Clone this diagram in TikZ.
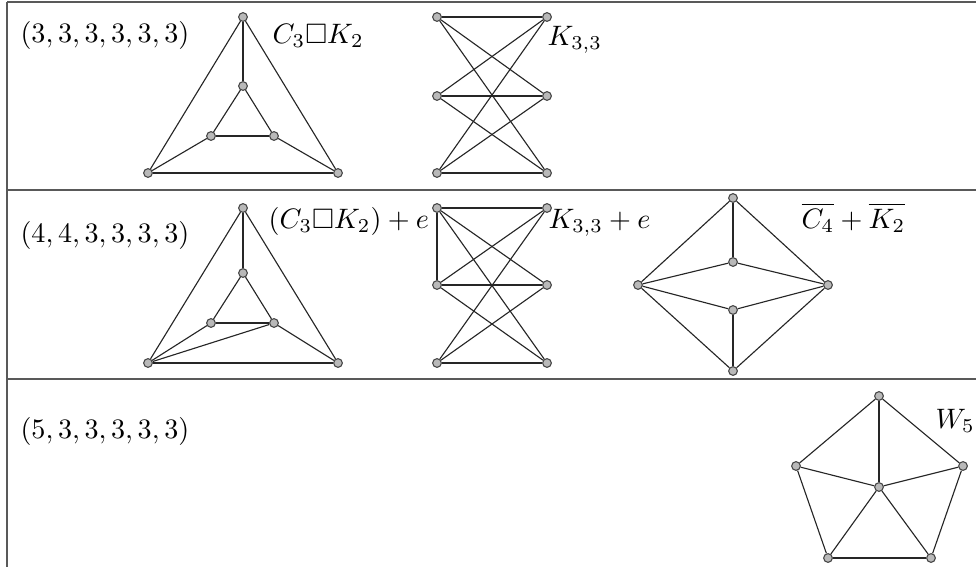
\documentclass[tikz,border=0pt]{standalone}
\usepackage{amssymb}

\begin{document}
\begin{tikzpicture}[x=0.0125cm, y=-0.0125cm,
    sommet/.style={circle, draw=black!70, fill=gray!55, line width=0.4pt, inner sep=0pt, minimum size=3.1pt},
    arete/.style={black!85, line width=0.4pt},
    etiq/.style={anchor=base west, inner sep=0pt}]
    \useasboundingbox (0,0) rectangle (976,567);

    % Tableau
    \draw[black!65, line width=0.6pt] (7,2) -- (976,2);
    \draw[black!65, line width=0.6pt] (7,190) -- (976,190);
    \draw[black!65, line width=0.6pt] (7,379) -- (976,379);
    \draw[black!65, line width=0.6pt] (7,2) -- (7,567);

    % Suites de degres
    \node[etiq] (s1) at (20,42) {$(3,3,3,3,3,3)$};
    \node[etiq] (s2) at (20,242) {$(4,4,3,3,3,3)$};
    \node[etiq] (s3) at (20,438) {$(5,3,3,3,3,3)$};

    % Ligne 1 : C3 x K2
    \node[sommet] (a1) at (243,17) {};
    \node[sommet] (a2) at (243,86) {};
    \node[sommet] (a3) at (211,136) {};
    \node[sommet] (a4) at (274,136) {};
    \node[sommet] (a5) at (148,173) {};
    \node[sommet] (a6) at (338,173) {};
    \foreach \u/\v in {a1/a2, a1/a5, a1/a6, a5/a6, a2/a3, a2/a4, a3/a4, a3/a5, a4/a6}
        \draw[arete] (\u) -- (\v);
    \node[etiq] (na) at (272,43) {$C_3\square K_2$};

    % Ligne 1 : K33
    \node[sommet] (b1) at (437,17) {};
    \node[sommet] (b2) at (437,96) {};
    \node[sommet] (b3) at (437,173) {};
    \node[sommet] (b4) at (547,17) {};
    \node[sommet] (b5) at (547,96) {};
    \node[sommet] (b6) at (547,173) {};
    \foreach \i in {1,2,3}
        \foreach \j in {4,5,6}
            \draw[arete] (b\i) -- (b\j);
    \node[etiq] (nb) at (547,45) {$K_{3,3}$};

    % Ligne 2 : (C3 x K2) + e
    \node[sommet] (c1) at (243,208) {};
    \node[sommet] (c2) at (243,273) {};
    \node[sommet] (c3) at (211,323) {};
    \node[sommet] (c4) at (274,323) {};
    \node[sommet] (c5) at (148,363) {};
    \node[sommet] (c6) at (338,363) {};
    \foreach \u/\v in {c1/c2, c1/c5, c1/c6, c5/c6, c2/c3, c2/c4, c3/c4, c3/c5, c4/c6, c5/c4}
        \draw[arete] (\u) -- (\v);
    \node[etiq] (nc) at (268,228) {$(C_3\square K_2)+e$};

    % Ligne 2 : K33 + e
    \node[sommet] (d1) at (437,208) {};
    \node[sommet] (d2) at (437,285) {};
    \node[sommet] (d3) at (437,363) {};
    \node[sommet] (d4) at (547,208) {};
    \node[sommet] (d5) at (547,285) {};
    \node[sommet] (d6) at (547,363) {};
    \foreach \i in {1,2,3}
        \foreach \j in {4,5,6}
            \draw[arete] (d\i) -- (d\j);
    \draw[arete] (d1) -- (d2);
    \node[etiq] (nd) at (548,228) {$K_{3,3}+e$};

    % Ligne 2 : complementaires
    \node[sommet] (e1) at (733,198) {};
    \node[sommet] (e2) at (733,262) {};
    \node[sommet] (e3) at (638,285) {};
    \node[sommet] (e4) at (828,285) {};
    \node[sommet] (e5) at (733,310) {};
    \node[sommet] (e6) at (733,371) {};
    \foreach \u/\v in {e1/e2, e1/e3, e1/e4, e2/e3, e2/e4, e3/e5, e4/e5, e5/e6, e3/e6, e4/e6}
        \draw[arete] (\u) -- (\v);
    \node[etiq] (ne) at (801,228) {$\overline{C_4}+\overline{K_2}$};

    % Ligne 3 : roue W5
    \node[sommet] (f0) at (879,487) {};
    \node[sommet] (f1) at (879,396) {};
    \node[sommet] (f2) at (963,466) {};
    \node[sommet] (f3) at (931,558) {};
    \node[sommet] (f4) at (828,558) {};
    \node[sommet] (f5) at (796,466) {};
    \foreach \u/\v in {f1/f2, f2/f3, f3/f4, f4/f5, f5/f1}
        \draw[arete] (\u) -- (\v);
    \foreach \k in {1,...,5}
        \draw[arete] (f0) -- (f\k);
    \node[etiq] (nf) at (935,428) {$W_5$};
\end{tikzpicture}
\end{document}
